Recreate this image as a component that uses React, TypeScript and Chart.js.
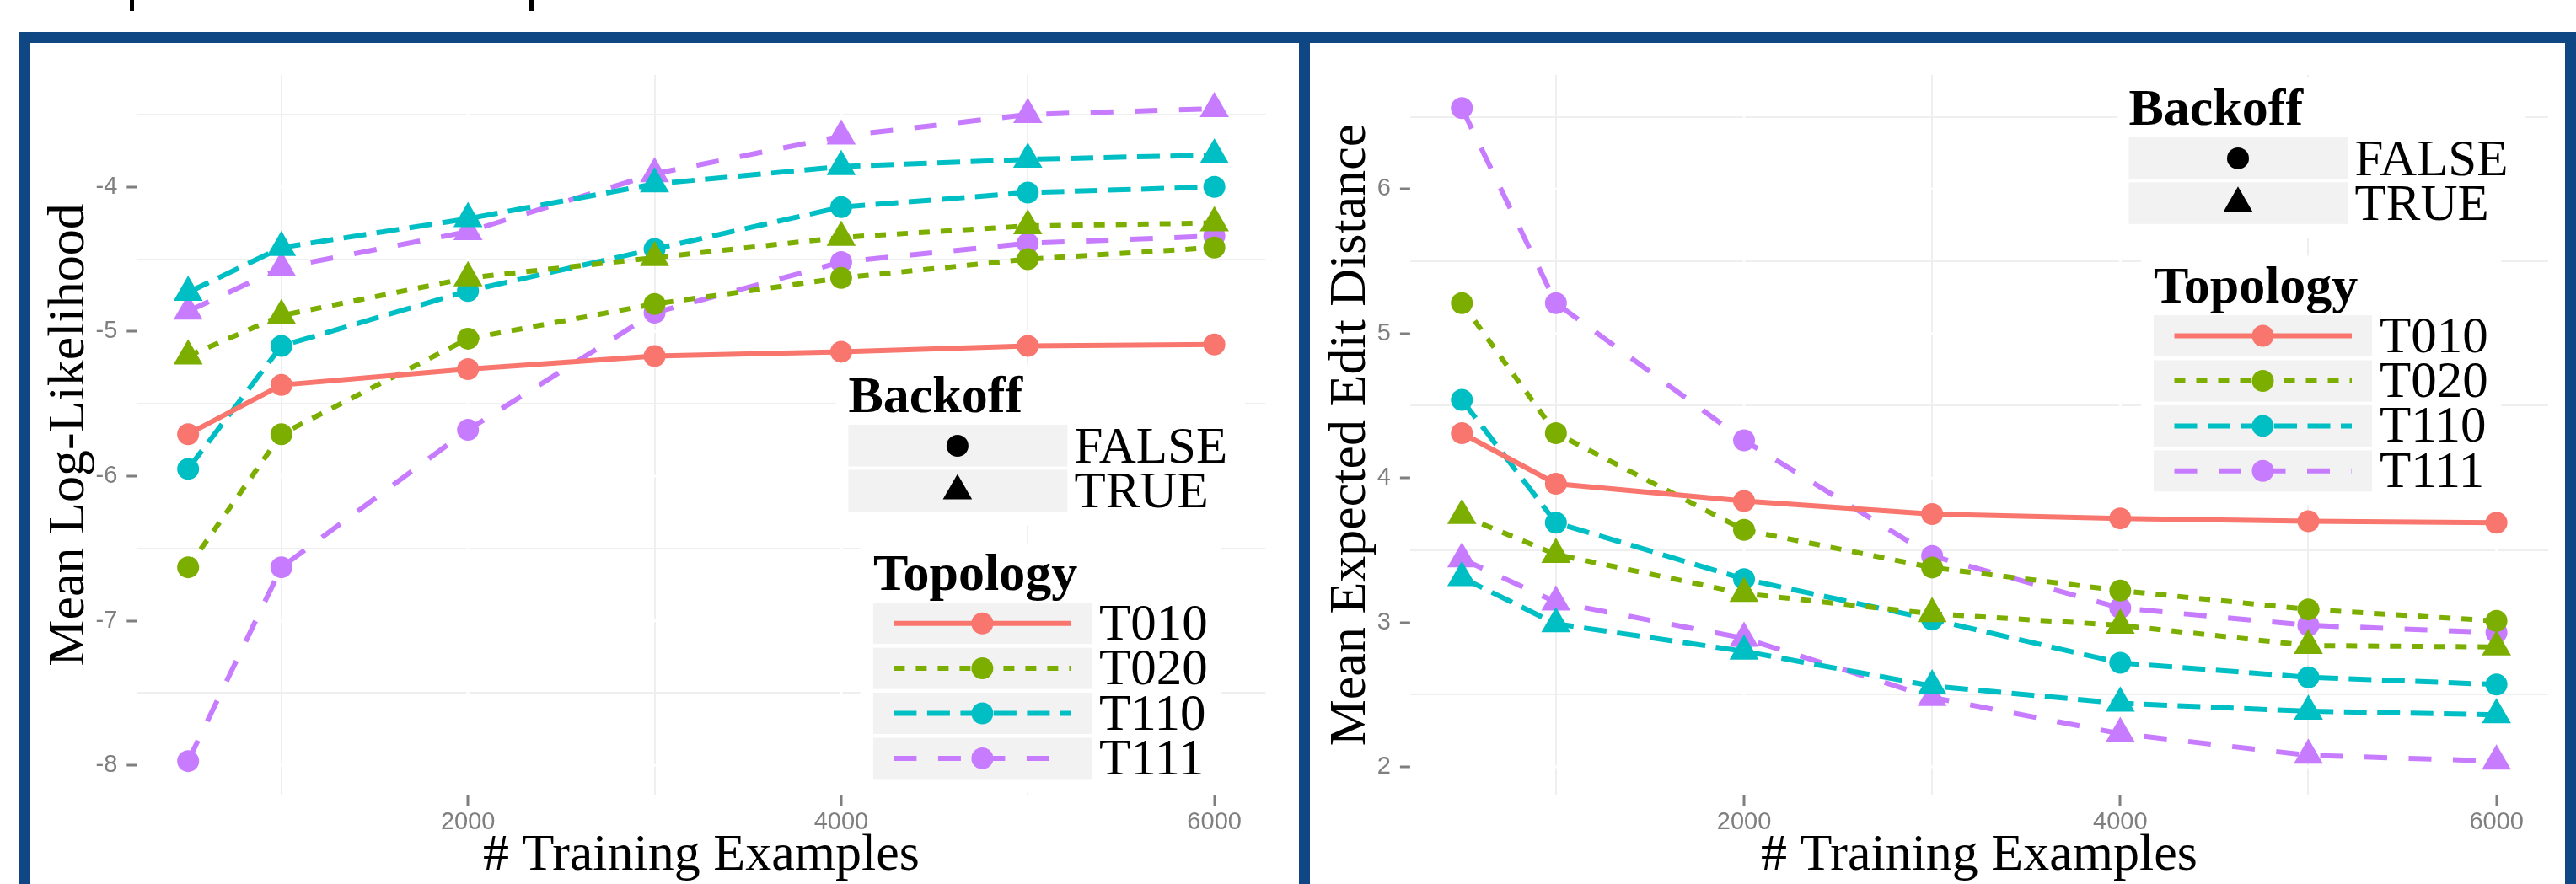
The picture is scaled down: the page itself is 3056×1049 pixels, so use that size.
import React, { useEffect, useRef } from 'react';
import { Chart, registerables } from 'chart.js';

Chart.register(...registerables);

// ---------- data ----------
const trainingExamples = [500, 1000, 2000, 3000, 4000, 5000, 6000];
const topologyNames = ['T010', 'T020', 'T110', 'T111'];
const backoffNames = ['FALSE', 'TRUE'];
const topologyColors = ['#F8766D', '#7CAE00', '#00BFC4', '#C77CFF'];
const topologyDashes: number[][] = [[], [13, 13], [27, 12.5], [27, 25.5]];
const xMajorTicks = [2000, 4000, 6000];
const xMinorTicks = [1000, 3000, 5000];

// Mean Log-Likelihood (left panel)
const llT010 = [-5.71, -5.37, -5.26, -5.17, -5.14, -5.1, -5.09];
const llT020False = [-6.63, -5.71, -5.05, -4.81, -4.63, -4.5, -4.42];
const llT020True = [-5.17, -4.89, -4.63, -4.49, -4.35, -4.27, -4.25];
const llT110False = [-5.95, -5.1, -4.72, -4.43, -4.14, -4.04, -4.0];
const llT110True = [-4.73, -4.42, -4.22, -3.98, -3.86, -3.81, -3.78];
const llT111False = [-7.97, -6.63, -5.68, -4.87, -4.52, -4.39, -4.34];
const llT111True = [-4.86, -4.56, -4.31, -3.91, -3.65, -3.5, -3.46];
const llYTicks = [-8, -7, -6, -5, -4];
const llYMinorTicks = [-7.5, -6.5, -5.5, -4.5, -3.5];

// Mean Expected Edit Distance (right panel)
const edT010 = [4.31, 3.96, 3.84, 3.75, 3.72, 3.7, 3.69];
const edT020False = [5.21, 4.31, 3.64, 3.38, 3.22, 3.09, 3.01];
const edT020True = [3.74, 3.47, 3.2, 3.06, 2.98, 2.84, 2.83];
const edT110False = [4.54, 3.69, 3.3, 3.02, 2.72, 2.62, 2.57];
const edT110True = [3.31, 2.99, 2.8, 2.56, 2.44, 2.385, 2.36];
const edT111False = [6.56, 5.21, 4.26, 3.46, 3.1, 2.98, 2.93];
const edT111True = [3.44, 3.14, 2.89, 2.48, 2.23, 2.08, 2.04];
const edYTicks = [2, 3, 4, 5, 6];
const edYMinorTicks = [2.5, 3.5, 4.5, 5.5, 6.5];

type Series = { topology: number; backoff: number; values: number[] };

const llSeries: Series[] = [
  { topology: 0, backoff: 0, values: llT010 },
  { topology: 1, backoff: 0, values: llT020False },
  { topology: 1, backoff: 1, values: llT020True },
  { topology: 2, backoff: 0, values: llT110False },
  { topology: 2, backoff: 1, values: llT110True },
  { topology: 3, backoff: 0, values: llT111False },
  { topology: 3, backoff: 1, values: llT111True },
];
const edSeries: Series[] = [
  { topology: 0, backoff: 0, values: edT010 },
  { topology: 1, backoff: 0, values: edT020False },
  { topology: 1, backoff: 1, values: edT020True },
  { topology: 2, backoff: 0, values: edT110False },
  { topology: 2, backoff: 1, values: edT110True },
  { topology: 3, backoff: 0, values: edT111False },
  { topology: 3, backoff: 1, values: edT111True },
];

// ---------- styling ----------
const FRAME_BLUE = '#0F4784';
const TICK_GREY = '#7f7f7f';
const MINOR_GRID = '#efefef';
const KEY_FILL = '#f2f2f2';
const CLEAR = 'rgba(0,0,0,0)';
const SERIF = '"Liberation Serif", "Times New Roman", serif';
const SANS = '"Liberation Sans", Arial, sans-serif';
const LINE_W = 6;
const CANVAS_TOP = 51;
const CANVAS_H = 998;

type PanelSpec = {
  series: Series[];
  yTitle: string;
  yMin: number;
  yMax: number;
  yTicks: number[];
  yMinorTicks: number[];
  canvasLeft: number;
  canvasWidth: number;
  yAxisWidth: number;
  rightPad: number;
  yTitlePad: number;
  legendX: number;
  legendY: number;
};

const panels: PanelSpec[] = [
  {
    series: llSeries,
    yTitle: 'Mean Log-Likelihood',
    yMin: -8.2022,
    yMax: -3.2269,
    yTicks: llYTicks,
    yMinorTicks: llYMinorTicks,
    canvasLeft: 36,
    canvasWidth: 1505,
    yAxisWidth: 126.3,
    rightPad: 39.5,
    yTitlePad: 15.4,
    legendX: 970.4,
    legendY: 437.6,
  },
  {
    series: edSeries,
    yTitle: 'Mean Expected Edit Distance',
    yMin: 1.8075,
    yMax: 6.789,
    yTicks: edYTicks,
    yMinorTicks: edYMinorTicks,
    canvasLeft: 1554,
    canvasWidth: 1489,
    yAxisWidth: 118.9,
    rightPad: 19,
    yTitlePad: 17.4,
    legendX: 971.5,
    legendY: 96.5,
  },
];

function drawTriangle(ctx: CanvasRenderingContext2D, x: number, y: number, r: number) {
  ctx.beginPath();
  ctx.moveTo(x, y - r);
  ctx.lineTo(x + (Math.sqrt(3) / 2) * r, y + r / 2);
  ctx.lineTo(x - (Math.sqrt(3) / 2) * r, y + r / 2);
  ctx.closePath();
  ctx.fill();
}

function drawCircle(ctx: CanvasRenderingContext2D, x: number, y: number, r: number) {
  ctx.beginPath();
  ctx.arc(x, y, r, 0, Math.PI * 2);
  ctx.fill();
}

function makeLegendPlugin(X0: number, Y0: number) {
  return {
    id: 'ggLegend',
    afterDraw(chart: any) {
      const ctx: CanvasRenderingContext2D = chart.ctx;
      ctx.save();
      ctx.fillStyle = '#ffffff';
      ctx.fillRect(X0 - 14.5, Y0 - 56, 485, 191);
      ctx.fillRect(X0 + 14.3, Y0 + 156, 427.3, 296);

      ctx.textAlign = 'left';
      ctx.textBaseline = 'alphabetic';
      // Backoff legend
      ctx.fillStyle = '#000';
      ctx.font = `bold 62px ${SERIF}`;
      ctx.fillText('Backoff', X0, Y0);
      backoffNames.forEach((name, i) => {
        const top = Y0 + 15.4 + i * 53.4;
        ctx.fillStyle = KEY_FILL;
        ctx.fillRect(X0, top, 260, 49.5);
        ctx.fillStyle = '#000';
        if (i === 0) drawCircle(ctx, X0 + 129.5, top + 25, 13);
        else drawTriangle(ctx, X0 + 129.5, top + 25, 20);
        ctx.font = `61px ${SERIF}`;
        ctx.fillText(name, X0 + 268, top + 45);
      });

      // Topology legend
      const TX = X0 + 29.5;
      ctx.fillStyle = '#000';
      ctx.font = `bold 62px ${SERIF}`;
      ctx.fillText('Topology', TX, Y0 + 211);
      topologyNames.forEach((name, i) => {
        const top = Y0 + 226.6 + i * 53.4;
        ctx.fillStyle = KEY_FILL;
        ctx.fillRect(TX, top, 259, 49);
        const cy = top + 24.5;
        ctx.strokeStyle = topologyColors[i];
        ctx.lineWidth = LINE_W;
        ctx.lineCap = 'butt';
        ctx.setLineDash(topologyDashes[i]);
        ctx.beginPath();
        ctx.moveTo(TX + 24.5, cy);
        ctx.lineTo(TX + 235, cy);
        ctx.stroke();
        ctx.setLineDash([]);
        ctx.fillStyle = topologyColors[i];
        drawCircle(ctx, TX + 129.5, cy, 13);
        ctx.fillStyle = '#000';
        ctx.font = `61px ${SERIF}`;
        ctx.fillText(name, TX + 268, top + 43.5);
      });
      ctx.restore();
    },
  };
}

function makeMajorGridPlugin(yTicks: number[]) {
  return {
    id: 'majorGrid',
    beforeDatasetsDraw(chart: any) {
      const { ctx, chartArea, scales } = chart;
      ctx.save();
      ctx.strokeStyle = '#ffffff';
      ctx.lineWidth = 3;
      ctx.beginPath();
      xMajorTicks.forEach((v) => {
        const px = scales.x.getPixelForValue(v);
        ctx.moveTo(px, chartArea.top);
        ctx.lineTo(px, chartArea.bottom);
      });
      yTicks.forEach((v) => {
        const py = scales.y.getPixelForValue(v);
        ctx.moveTo(chartArea.left, py);
        ctx.lineTo(chartArea.right, py);
      });
      ctx.stroke();
      ctx.restore();
    },
  };
}

function buildConfig(spec: PanelSpec): any {
  const lineSets = spec.series.map((s) => ({
    type: 'line',
    label: `${topologyNames[s.topology]} ${backoffNames[s.backoff]}`,
    data: trainingExamples.map((x, i) => ({ x, y: s.values[i] })),
    borderColor: topologyColors[s.topology],
    borderWidth: LINE_W,
    borderDash: topologyDashes[s.topology],
    borderCapStyle: 'butt',
    pointRadius: 0,
    fill: false,
    tension: 0,
    order: 2,
  }));
  const pointSets = spec.series.map((s) => ({
    type: 'line',
    label: `${topologyNames[s.topology]} ${backoffNames[s.backoff]} points`,
    data: trainingExamples.map((x, i) => ({ x, y: s.values[i] })),
    showLine: false,
    pointStyle: s.backoff ? 'triangle' : 'circle',
    pointRadius: s.backoff ? 20 : 13,
    pointBackgroundColor: topologyColors[s.topology],
    pointBorderWidth: 0,
    pointBorderColor: topologyColors[s.topology],
    order: 1,
  }));

  const isYMajor = (v: number) => spec.yTicks.includes(v);
  const isXMajor = (v: number) => xMajorTicks.includes(v);
  const xTickValues = [...xMinorTicks, ...xMajorTicks].sort((a, b) => a - b);
  const yTickValues = [...spec.yMinorTicks, ...spec.yTicks].sort((a, b) => a - b);

  return {
    type: 'line',
    data: { datasets: [...lineSets, ...pointSets] },
    plugins: [makeMajorGridPlugin(spec.yTicks), makeLegendPlugin(spec.legendX, spec.legendY)],
    options: {
      responsive: false,
      maintainAspectRatio: false,
      animation: false,
      devicePixelRatio: 1,
      layout: { padding: { left: 0, right: spec.rightPad, top: 38, bottom: 0 } },
      plugins: { legend: { display: false }, tooltip: { enabled: false }, title: { display: false } },
      elements: { line: { borderJoinStyle: 'miter' } },
      scales: {
        x: {
          type: 'linear',
          min: 225,
          max: 6275,
          afterBuildTicks: (s: any) => {
            s.ticks = xTickValues.map((value) => ({ value }));
          },
          afterFit: (s: any) => {
            s.height = 106;
          },
          ticks: {
            autoSkip: false,
            maxRotation: 0,
            minRotation: 0,
            padding: 3,
            color: TICK_GREY,
            font: { family: SANS, size: 29 },
            callback: (v: number) => (isXMajor(v) ? String(v) : ''),
          },
          grid: {
            color: (c: any) => (c.tick && isXMajor(c.tick.value) ? CLEAR : MINOR_GRID),
            lineWidth: 2,
            drawTicks: true,
            tickLength: 13,
            tickWidth: 3,
            tickColor: (c: any) => (c.tick && isXMajor(c.tick.value) ? TICK_GREY : CLEAR),
          },
          border: { display: false },
          title: {
            display: true,
            text: '# Training Examples',
            color: '#000',
            font: { family: SERIF, size: 62, lineHeight: 1 },
            padding: { top: 0, bottom: 2.2 },
          },
        },
        y: {
          type: 'linear',
          min: spec.yMin,
          max: spec.yMax,
          afterBuildTicks: (s: any) => {
            s.ticks = yTickValues.map((value) => ({ value }));
          },
          afterFit: (s: any) => {
            s.width = spec.yAxisWidth;
          },
          ticks: {
            autoSkip: false,
            padding: 11,
            color: TICK_GREY,
            font: { family: SANS, size: 29 },
            callback: (v: number) => (isYMajor(v) ? String(v) : ''),
          },
          grid: {
            color: (c: any) => (c.tick && isYMajor(c.tick.value) ? CLEAR : MINOR_GRID),
            lineWidth: 2,
            drawTicks: true,
            tickLength: 12,
            tickWidth: 3,
            tickColor: (c: any) => (c.tick && isYMajor(c.tick.value) ? TICK_GREY : CLEAR),
          },
          border: { display: false },
          title: {
            display: true,
            text: spec.yTitle,
            color: '#000',
            font: { family: SERIF, size: 62, lineHeight: 1 },
            padding: { top: spec.yTitlePad, bottom: 0 },
          },
        },
      },
    },
  };
}

function Panel({ spec }: { spec: PanelSpec }) {
  const ref = useRef<HTMLCanvasElement | null>(null);
  useEffect(() => {
    if (!ref.current) return;
    const chart = new Chart(ref.current, buildConfig(spec));
    return () => chart.destroy();
  }, [spec]);
  return (
    <canvas
      ref={ref}
      width={spec.canvasWidth}
      height={CANVAS_H}
      style={{
        position: 'absolute',
        left: spec.canvasLeft,
        top: CANVAS_TOP,
        width: spec.canvasWidth,
        height: CANVAS_H,
        display: 'block',
      }}
    />
  );
}

export default function App() {
  const band = (left: number, top: number, width: number, height: number, color = FRAME_BLUE) => (
    <div style={{ position: 'absolute', left, top, width, height, background: color }} />
  );
  return (
    <div
      style={{
        position: 'absolute',
        left: 0,
        top: 0,
        width: 3056,
        height: 1049,
        background: '#ffffff',
        overflow: 'hidden',
      }}
    >
      {panels.map((p, i) => (
        <Panel key={i} spec={p} />
      ))}
      {band(154, 0, 5, 13, '#000')}
      {band(628, 0, 5, 13, '#000')}
      {band(23, 37.5, 3033, 13.5)}
      {band(23, 37.5, 13, 1011.5)}
      {band(1541, 37.5, 13, 1011.5)}
      {band(3043, 37.5, 13, 1011.5)}
    </div>
  );
}
